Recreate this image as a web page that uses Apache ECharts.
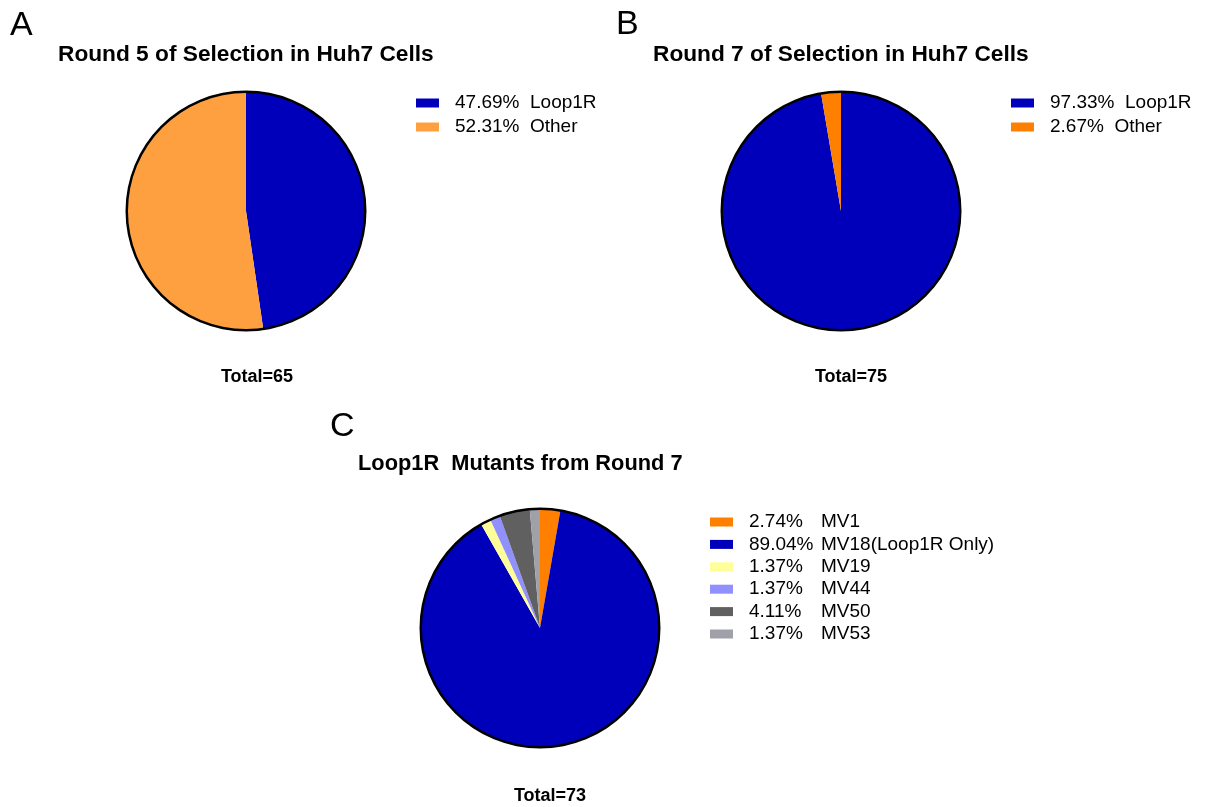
<!DOCTYPE html>
<html>
<head>
<meta charset="utf-8">
<script src="https://cdn.jsdelivr.net/npm/echarts@6/dist/echarts.min.js"></script>
<style>
  html, body { margin: 0; padding: 0; background: #fff; }
  #main { width: 1205px; height: 807px; }
</style>
</head>
<body>
<div id="main"></div>
<script>
// data (percent of clones)
var namesA = ["Loop1R", "Other"];
var valuesA = [47.69, 52.31];
var colorsA = ["#0000BB", "#FFA040"];

var namesB = ["Loop1R", "Other"];
var valuesB = [97.33, 2.67];
var colorsB = ["#0000BB", "#FF8000"];

var namesC = ["MV1", "MV18(Loop1R Only)", "MV19", "MV44", "MV50", "MV53"];
var valuesC = [2.74, 89.04, 1.37, 1.37, 4.11, 1.37];
var colorsC = ["#FF8000", "#0000BB", "#FFFF99", "#9090FF", "#606060", "#A0A0A8"];

var titles = ["Round 5 of Selection in Huh7 Cells", "Round 7 of Selection in Huh7 Cells", "Loop1R  Mutants from Round 7"];
var totals = ["Total=65", "Total=75", "Total=73"];
var panels = ["A", "B", "C"];

var FONT = "Liberation Sans, Arial, sans-serif";

var chart = echarts.init(document.getElementById("main"));

function pieData(names, values, colors) {
  return names.map(function (n, i) {
    return { name: n, value: values[i], itemStyle: { color: colors[i] } };
  });
}

// legend entries keep their own colour (A and B share names)
function legendData(names, colors) {
  return names.map(function (n, i) {
    return { name: n, itemStyle: { color: colors[i] } };
  });
}

function pieSeries(names, values, colors, center) {
  return {
    type: "pie",
    center: center,
    radius: [0, 119],
    startAngle: 90,
    clockwise: true,
    silent: true,
    label: { show: false },
    labelLine: { show: false },
    emphasis: { disabled: true },
    itemStyle: { borderWidth: 0 },
    data: pieData(names, values, colors)
  };
}

// thin black ring round each pie
function outline(center) {
  return {
    type: "pie",
    center: center,
    radius: [118, 120.5],
    silent: true,
    label: { show: false },
    labelLine: { show: false },
    emphasis: { disabled: true },
    itemStyle: { color: "#000" },
    data: [{ value: 1, name: "" }]
  };
}

function pctLookup(names, values) {
  return function (name) {
    var i = names.indexOf(name);
    return values[i].toFixed(2) + "%";
  };
}
var pctA = pctLookup(namesA, valuesA);
var pctB = pctLookup(namesB, valuesB);
var pctC = pctLookup(namesC, valuesC);

var legendText = { fontFamily: FONT, fontSize: 19, color: "#000", lineHeight: 19 };

var option = {
  animation: false,
  backgroundColor: "#fff",
  title: [
    { text: titles[0], left: 58, top: 43, padding: 0,
      textStyle: { fontFamily: FONT, fontSize: 22.7, fontWeight: "bold", color: "#000" } },
    { text: titles[1], left: 653, top: 43, padding: 0,
      textStyle: { fontFamily: FONT, fontSize: 22.7, fontWeight: "bold", color: "#000" } },
    { text: titles[2], left: 358, top: 453, padding: 0,
      textStyle: { fontFamily: FONT, fontSize: 21.8, fontWeight: "bold", color: "#000" } }
  ],
  legend: [
    {
      orient: "vertical", left: 416, top: 93.5, padding: 0,
      itemWidth: 23, itemHeight: 9, itemGap: 5, icon: "rect",
      selectedMode: false,
      data: legendData(namesA, colorsA),
      formatter: function (name) { return "{t|" + pctA(name) + "  " + name + "}"; },
      textStyle: Object.assign({ rich: { t: Object.assign({ padding: [0, 0, 0, 11] }, legendText) } }, legendText)
    },
    {
      orient: "vertical", left: 1011, top: 93.5, padding: 0,
      itemWidth: 23, itemHeight: 9, itemGap: 5, icon: "rect",
      selectedMode: false,
      data: legendData(namesB, colorsB),
      formatter: function (name) { return "{t|" + pctB(name) + "  " + name + "}"; },
      textStyle: Object.assign({ rich: { t: Object.assign({ padding: [0, 0, 0, 11] }, legendText) } }, legendText)
    },
    {
      orient: "vertical", left: 710, top: 512.5, padding: 0,
      itemWidth: 23, itemHeight: 9, itemGap: 3.4, icon: "rect",
      selectedMode: false,
      data: legendData(namesC, colorsC),
      formatter: function (name) { return "{p|" + pctC(name) + "}{n|" + name + "}"; },
      textStyle: Object.assign({
        rich: {
          p: Object.assign({ width: 72, padding: [0, 0, 0, 11] }, legendText),
          n: Object.assign({}, legendText)
        }
      }, legendText)
    }
  ],
  graphic: [
    { type: "text", x: 10, y: 26, style: { text: panels[0], font: "34px " + FONT, fill: "#000", textVerticalAlign: "middle" } },
    { type: "text", x: 616, y: 25, style: { text: panels[1], font: "34px " + FONT, fill: "#000", textVerticalAlign: "middle" } },
    { type: "text", x: 330, y: 427, style: { text: panels[2], font: "34px " + FONT, fill: "#000", textVerticalAlign: "middle" } },
    { type: "text", x: 257, y: 377, style: { text: totals[0], font: "bold 18px " + FONT, fill: "#000", textAlign: "center", textVerticalAlign: "middle" } },
    { type: "text", x: 851, y: 377, style: { text: totals[1], font: "bold 18px " + FONT, fill: "#000", textAlign: "center", textVerticalAlign: "middle" } },
    { type: "text", x: 550, y: 796, style: { text: totals[2], font: "bold 18px " + FONT, fill: "#000", textAlign: "center", textVerticalAlign: "middle" } }
  ],
  series: [
    pieSeries(namesA, valuesA, colorsA, [246, 211]),
    outline([246, 211]),
    pieSeries(namesB, valuesB, colorsB, [841, 211]),
    outline([841, 211]),
    pieSeries(namesC, valuesC, colorsC, [540, 628]),
    outline([540, 628])
  ]
};

chart.setOption(option);
</script>
</body>
</html>
